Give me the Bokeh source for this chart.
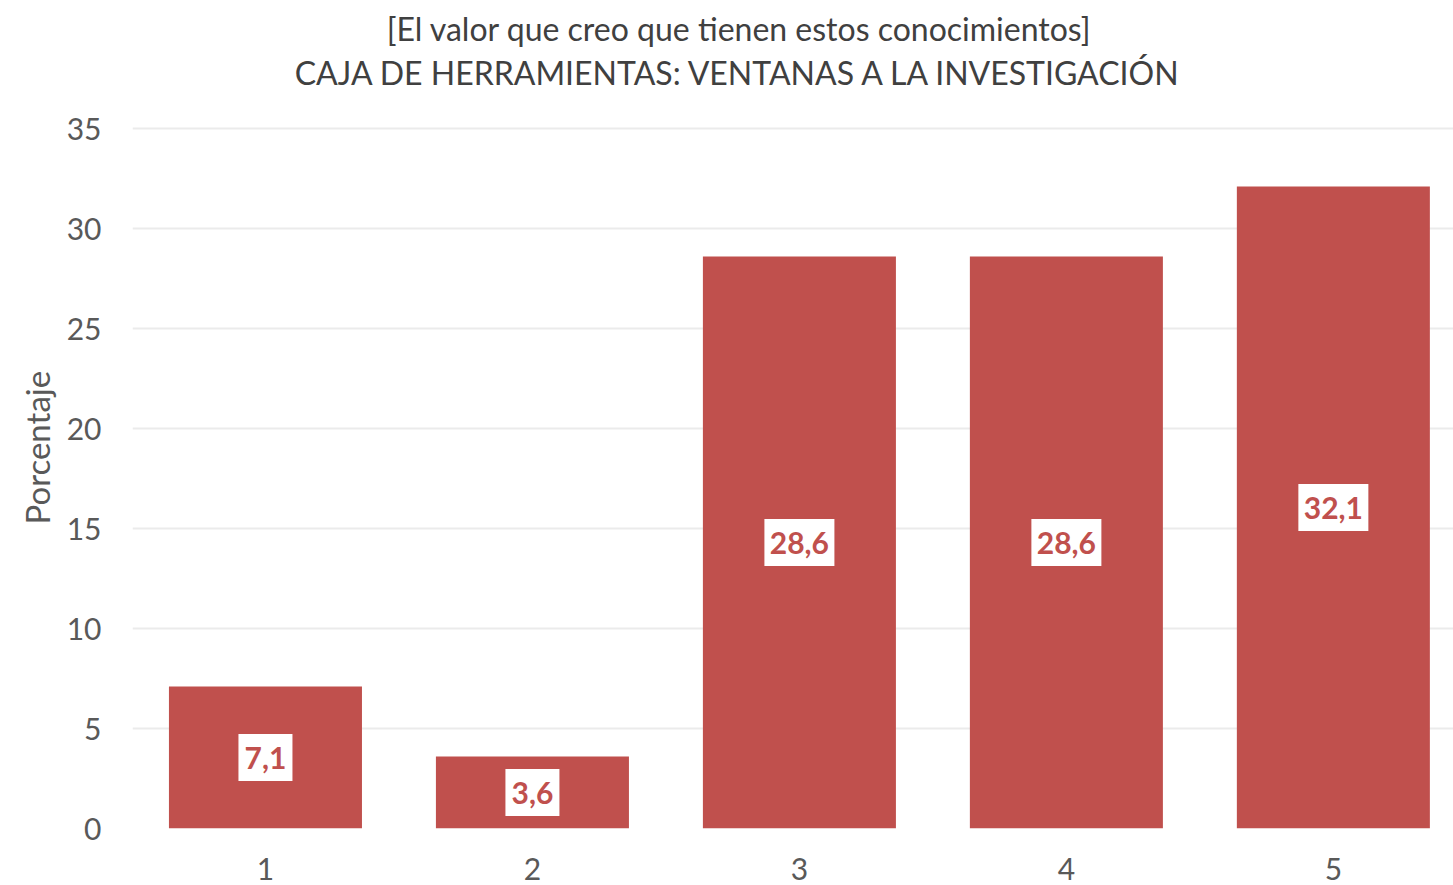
from bokeh.plotting import figure
from bokeh.models import ColumnDataSource, Range1d, FixedTicker, LabelSet, Label, Title
from bokeh.core.properties import value
from bokeh.embed import file_html
from bokeh.resources import INLINE

categories = [1, 2, 3, 4, 5]
values = [7.1, 3.6, 28.6, 28.6, 32.1]
labels = ["7,1", "3,6", "28,6", "28,6", "32,1"]
y_ticks = [0, 5, 10, 15, 20, 25, 30, 35]
title_line1 = "[El valor que creo que tienen estos conocimientos]"
title_line2 = "CAJA DE HERRAMIENTAS: VENTANAS A LA INVESTIGACIÓN"
y_label = "Porcentaje"

FONT = "Lato"
BAR = "#C0504D"

src = ColumnDataSource(dict(
    x=categories,
    top=values,
    mid=[v / 2 for v in values],
    lab=labels,
    boxw=[6 + 16 * len(s) for s in labels],
))

# y range extends above 35 to leave room for the two title lines inside the frame
p = figure(width=1453, height=885, output_backend="svg", toolbar_location=None,
           x_range=Range1d(0.502, 5.45), y_range=Range1d(0, 41.4),
           min_border_left=132, min_border_right=0, min_border_top=0,
           min_border_bottom=57)
p.outline_line_color = None
p.background_fill_color = "white"
p.border_fill_color = "white"

p.vbar(x="x", top="top", bottom=0, width=0.723, source=src,
       fill_color=BAR, line_color=None)

p.rect(x="x", y="mid", width="boxw", height=47, width_units="screen",
       height_units="screen", source=src, fill_color="white", line_color=None)

p.add_layout(LabelSet(x="x", y="mid", text="lab", source=src,
                      text_align="center", text_baseline="middle",
                      text_color=value(BAR), text_font=value(FONT),
                      text_font_style=value("bold"), text_font_size=value("30px")))

p.xaxis.ticker = FixedTicker(ticks=categories)
p.yaxis.ticker = FixedTicker(ticks=y_ticks)
for ax in (p.xaxis[0], p.yaxis[0]):
    ax.axis_line_color = None
    ax.major_tick_line_color = None
    ax.minor_tick_line_color = None
    ax.major_label_text_font = FONT
    ax.major_label_text_font_size = "30px"
    ax.major_label_text_color = "#595959"
p.xaxis.major_label_standoff = 23
p.yaxis.major_label_standoff = 25

p.xgrid.grid_line_color = None
p.ygrid.grid_line_color = "#EBEBEB"
p.ygrid.grid_line_width = 2

p.add_layout(Title(text=y_label, align="left", offset=304, vertical_align="bottom",
                   standoff=14, text_font=FONT, text_font_size="33px",
                   text_font_style="normal", text_color="#595959"), "left")

p.add_layout(Label(x=2.775, y=40.0, text=title_line1,
                   text_align="center", text_baseline="middle",
                   text_font=FONT, text_font_size="32px", text_color="#404040"))
p.add_layout(Label(x=2.775, y=37.8, text=title_line2,
                   text_align="center", text_baseline="middle",
                   text_font=FONT, text_font_size="32px", text_color="#404040"))

open("out.html", "w").write(file_html(p, INLINE))
